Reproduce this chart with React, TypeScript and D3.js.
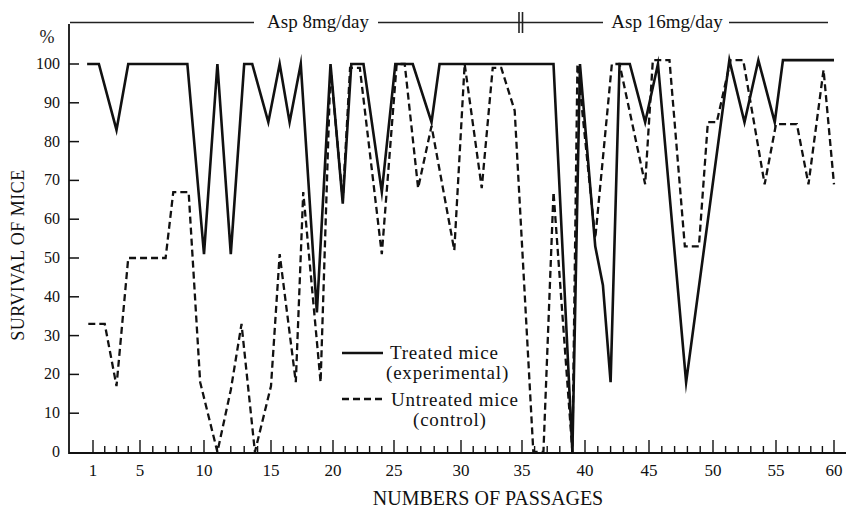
import React from "react";
import * as d3 from "d3";

// ---- data (passage number, % survival) ----
const treatedPassage = [0.5, 1.5, 3, 4, 8.7, 10, 11, 12, 13, 13.6, 14.8, 15.7, 16.5, 17.4, 18.7, 19.8, 20.8, 21.5, 22.5, 24, 25.1, 26.4, 27.8, 28.4, 37.5, 39, 39.6, 40.8, 41.4, 42, 42.7, 43.5, 44.7, 45.7, 47.9, 51.3, 52.5, 53.6, 54.9, 55.6, 60];
const treatedSurvival = [100, 100, 83, 100, 100, 51, 100, 51, 100, 100, 85, 100, 85, 100, 36, 100, 64, 100, 100, 67, 100, 100, 85, 100, 100, 0, 100, 53, 43, 18, 100, 100, 85, 100, 18, 101, 85, 101, 85, 101, 101];

const controlPassage = [0.6, 2, 3, 4, 7, 7.6, 8.8, 9.7, 11, 12, 12.8, 13.8, 15, 15.7, 17, 17.6, 19, 19.8, 20.8, 21.4, 22.2, 24, 25.2, 25.8, 26.8, 27.8, 29.5, 30.3, 31.7, 32.6, 33.3, 34.4, 35.9, 36.7, 37.5, 39, 39.4, 40.8, 42.1, 42.7, 44.7, 45.3, 46.6, 47.8, 48.9, 49.6, 50.3, 51.4, 52.4, 54.1, 55, 56.8, 57.8, 59.1, 60];
const controlSurvival = [33, 33, 17, 50, 50, 67, 67, 18, 0, 16, 33, 0, 17, 51, 18, 67, 18, 99, 65, 99, 99, 51, 100, 100, 68, 84, 52, 100, 68, 99, 99, 88, 0, 0, 67, 0, 100, 55, 100, 100, 69, 101, 101, 53, 53, 85, 85, 101, 101, 69, 84.5, 84.5, 69, 98.5, 69];

const xTickLabels = [1, 5, 10, 15, 20, 25, 30, 35, 40, 45, 50, 55, 60];
const yTickValues = [0, 10, 20, 30, 40, 50, 60, 70, 80, 90, 100];

const W = 846;
const H = 508;
const FONT = "'Liberation Serif', 'DejaVu Serif', serif";

export default function App() {
  // hand-drawn axis: calibrate passage positions against the printed ticks
  const x = d3
    .scaleLinear()
    .domain(xTickLabels)
    .range([93, 140, 204, 271, 333, 394, 461, 522, 585, 649, 713, 776, 834]);
  const y = d3.scaleLinear().domain([0, 100]).range([452, 64]);

  const axisY = 453;
  const axisX = 69;

  const line = d3
    .line<[number, number]>()
    .x((d) => x(d[0]))
    .y((d) => y(d[1]));

  const treated = treatedPassage.map((p, i) => [p, treatedSurvival[i]] as [number, number]);
  const control = controlPassage.map((p, i) => [p, controlSurvival[i]] as [number, number]);

  const minorTicks = d3.range(1, 61);

  return (
    <svg
      width={W}
      height={H}
      style={{ position: "absolute", left: 0, top: 0, background: "#fff" }}
      fontFamily={FONT}
    >
      <rect width={W} height={H} fill="#fff" />

      {/* top treatment annotation */}
      <g stroke="#222" strokeWidth={1.3}>
        <line x1={70} x2={254} y1={22.5} y2={22.5} />
        <line x1={378} x2={603} y1={22.5} y2={22.5} />
        <line x1={729} x2={828} y1={22.5} y2={22.5} />
        <line x1={519} x2={519} y1={12} y2={33} strokeWidth={1.6} />
        <line x1={522.5} x2={522.5} y1={12} y2={33} strokeWidth={1.6} />
      </g>
      <text x={318} y={28} fontSize={19} textAnchor="middle" fill="#111">
        Asp 8mg/day
      </text>
      <text x={667} y={28} fontSize={19} textAnchor="middle" fill="#111">
        Asp 16mg/day
      </text>

      {/* y axis */}
      <line x1={axisX} x2={axisX} y1={24} y2={axisY + 1} stroke="#111" strokeWidth={1.8} />
      {yTickValues.map((v) => (
        <g key={v}>
          {v > 0 && <line x1={axisX} x2={axisX + 10} y1={y(v)} y2={y(v)} stroke="#111" strokeWidth={1.5} />}
          <text x={60} y={y(v) + 5} fontSize={16} textAnchor="end" fill="#111">
            {v}
          </text>
        </g>
      ))}
      <text x={47} y={43} fontSize={18} textAnchor="middle" fill="#222">
        %
      </text>
      <text
        transform={`translate(24,255) rotate(-90)`}
        fontSize={18}
        textAnchor="middle"
        fill="#111"
        letterSpacing={0.5}
      >
        SURVIVAL OF MICE
      </text>

      {/* x axis */}
      <line x1={axisX} x2={W} y1={axisY} y2={axisY} stroke="#111" strokeWidth={2} />
      {minorTicks.map((p) => {
        const major = p === 1 || p % 5 === 0;
        return (
          <line
            key={p}
            x1={x(p)}
            x2={x(p)}
            y1={axisY}
            y2={axisY - (major ? 13 : 7)}
            stroke="#111"
            strokeWidth={1.4}
          />
        );
      })}
      {xTickLabels.map((p) => (
        <text key={p} x={x(p)} y={476} fontSize={17} textAnchor="middle" fill="#111">
          {p}
        </text>
      ))}
      <text x={488} y={505} fontSize={20} textAnchor="middle" fill="#111">
        NUMBERS OF PASSAGES
      </text>

      {/* series */}
      <path d={line(control) || ""} fill="none" stroke="#111" strokeWidth={2.3} strokeDasharray="7 4" strokeLinejoin="miter" />
      <path d={line(treated) || ""} fill="none" stroke="#111" strokeWidth={2.6} strokeLinejoin="miter" strokeMiterlimit={10} />

      {/* legend */}
      <line x1={342} x2={383} y1={353} y2={353} stroke="#111" strokeWidth={2.5} />
      <text x={390} y={359} fontSize={19} fill="#111" letterSpacing={0.8}>
        Treated mice
      </text>
      <text x={386} y={379} fontSize={19} fill="#111" letterSpacing={0.8}>
        (experimental)
      </text>
      <line x1={342} x2={385} y1={399} y2={399} stroke="#111" strokeWidth={2.3} strokeDasharray="7 4" />
      <text x={391} y={406} fontSize={19} fill="#111" letterSpacing={0.8}>
        Untreated mice
      </text>
      <text x={413} y={426} fontSize={19} fill="#111" letterSpacing={0.8}>
        (control)
      </text>
    </svg>
  );
}
